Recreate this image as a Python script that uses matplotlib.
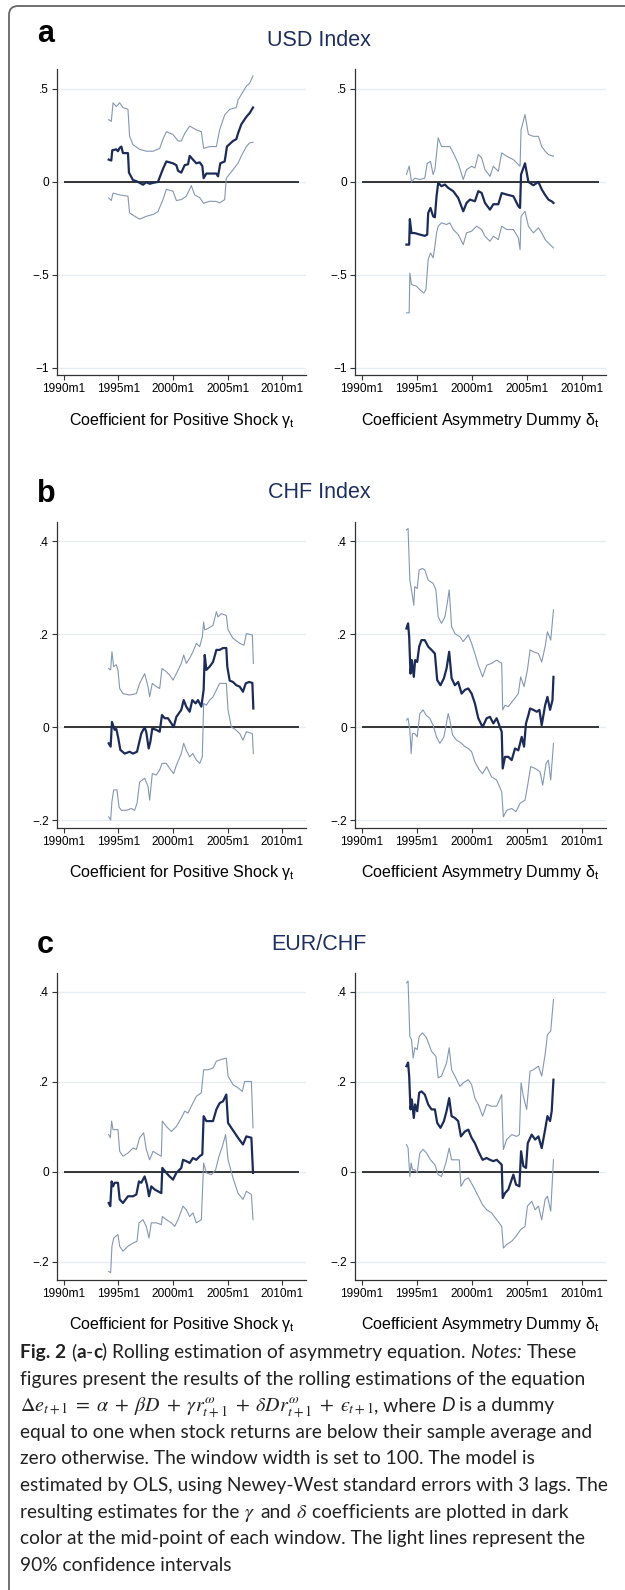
import matplotlib
matplotlib.use("Agg")
import matplotlib.pyplot as plt
from matplotlib.patches import FancyBboxPatch
from matplotlib.transforms import IdentityTransform

plt.rcParams['font.family'] = 'Liberation Sans'
plt.rcParams['mathtext.fontset'] = 'stix'

# ---- rolling estimates, window mid-points in decimal years ----
# USD index, gamma
usd_gam_t = [1994.10, 1994.34, 1994.43, 1994.80, 1994.95, 1995.11, 1995.26, 1995.41, 1995.87, 1995.96,
             1996.33, 1996.64, 1996.94, 1997.25, 1997.55, 1997.86, 1998.17, 1998.62, 1999.08, 1999.39,
             2000.00, 2000.31, 2000.46, 2000.76, 2001.07, 2001.38, 2001.53, 2001.83, 2002.14, 2002.45,
             2002.69, 2002.81, 2003.06, 2003.98, 2004.13, 2004.34, 2004.74, 2004.95, 2005.50, 2005.81,
             2005.96, 2006.27, 2006.73, 2007.03, 2007.34]
usd_gam = [0.12, 0.115, 0.17, 0.175, 0.165, 0.183, 0.19, 0.155, 0.155, 0.05,
           0.01, 0.004, -0.005, -0.015, -0.002, -0.01, -0.005, 0.0, 0.07, 0.11,
           0.10, 0.09, 0.06, 0.05, 0.09, 0.095, 0.14, 0.12, 0.10, 0.105,
           0.085, 0.02, 0.045, 0.045, 0.03, 0.10, 0.11, 0.19, 0.22, 0.23,
           0.26, 0.31, 0.35, 0.37, 0.40]
usd_gam_hi_t = [1994.10, 1994.34, 1994.50, 1994.80, 1995.11, 1995.41, 1995.87, 1996.02, 1996.33, 1996.94,
                1997.55, 1998.17, 1998.78, 1999.08, 1999.39, 2000.00, 2000.46, 2000.76, 2001.07, 2001.53,
                2002.14, 2002.60, 2002.81, 2003.36, 2003.98, 2004.28, 2004.74, 2005.20, 2005.81, 2005.96,
                2006.27, 2006.73, 2007.03, 2007.34]
usd_gam_hi = [0.335, 0.325, 0.425, 0.405, 0.425, 0.40, 0.39, 0.245, 0.20, 0.175,
              0.165, 0.165, 0.18, 0.23, 0.27, 0.255, 0.22, 0.22, 0.26, 0.30,
              0.28, 0.27, 0.18, 0.19, 0.19, 0.28, 0.36, 0.39, 0.40, 0.44,
              0.47, 0.515, 0.53, 0.57]
usd_gam_lo_t = [1994.10, 1994.34, 1994.50, 1995.11, 1995.87, 1996.02, 1996.64, 1996.94, 1997.55, 1998.17,
                1998.62, 1999.08, 1999.39, 2000.00, 2000.31, 2000.76, 2001.22, 2001.68, 2001.99, 2002.45,
                2002.81, 2003.36, 2003.98, 2004.28, 2004.74, 2004.89, 2005.50, 2005.96, 2006.27, 2006.73,
                2007.03, 2007.34]
usd_gam_lo = [-0.086, -0.10, -0.06, -0.07, -0.077, -0.167, -0.19, -0.20, -0.185, -0.175,
              -0.16, -0.095, -0.04, -0.05, -0.10, -0.095, -0.077, -0.02, -0.07, -0.085,
              -0.115, -0.104, -0.105, -0.113, -0.095, 0.02, 0.065, 0.10, 0.14, 0.19,
              0.21, 0.213]

# USD index, delta
usd_del_t = [1994.04, 1994.29, 1994.35, 1994.50, 1994.80, 1995.26, 1995.71, 1995.93, 1996.02, 1996.23,
             1996.47, 1996.63, 1996.78, 1996.93, 1997.23, 1997.54, 1997.84, 1998.30, 1998.75, 1999.21,
             1999.51, 1999.82, 2000.27, 2000.58, 2000.88, 2001.19, 2001.64, 2001.95, 2002.40, 2002.71,
             2003.16, 2003.77, 2004.22, 2004.38, 2004.47, 2004.83, 2005.14, 2005.59, 2006.05, 2006.35,
             2006.66, 2006.96, 2007.27, 2007.42]
usd_del = [-0.337, -0.337, -0.20, -0.275, -0.275, -0.283, -0.29, -0.283, -0.167, -0.14,
           -0.185, -0.19, -0.077, -0.005, -0.023, -0.014, -0.032, -0.05, -0.086, -0.158,
           -0.113, -0.095, -0.104, -0.05, -0.059, -0.113, -0.149, -0.12, -0.12, -0.06,
           -0.068, -0.077, -0.13, -0.14, 0.04, 0.10, 0.0, -0.018, 0.0, -0.04,
           -0.07, -0.095, -0.105, -0.113]
usd_del_hi_t = [1994.04, 1994.29, 1994.50, 1994.80, 1995.26, 1995.71, 1995.93, 1996.23, 1996.47, 1996.63,
                1996.93, 1997.23, 1997.54, 1997.99, 1998.30, 1998.75, 1999.21, 1999.51, 1999.97, 2000.27,
                2000.58, 2000.88, 2001.19, 2001.64, 2001.95, 2002.40, 2002.71, 2003.16, 2003.77, 2004.22,
                2004.38, 2004.47, 2004.83, 2005.14, 2005.59, 2006.05, 2006.35, 2006.66, 2006.96, 2007.42]
usd_del_hi = [0.04, 0.085, 0.0, 0.02, 0.013, 0.02, 0.10, 0.11, 0.04, 0.066,
              0.237, 0.19, 0.19, 0.19, 0.156, 0.10, 0.013, 0.066, 0.084, 0.075,
              0.147, 0.13, 0.066, 0.03, 0.084, 0.057, 0.156, 0.138, 0.12, 0.093,
              0.084, 0.28, 0.362, 0.255, 0.245, 0.245, 0.19, 0.165, 0.147, 0.138]
usd_del_lo_t = [1994.04, 1994.29, 1994.35, 1994.50, 1994.95, 1995.26, 1995.62, 1995.81, 1996.02, 1996.23,
                1996.47, 1996.63, 1996.78, 1996.93, 1997.23, 1997.69, 1997.99, 1998.30, 1998.75, 1999.21,
                1999.51, 1999.97, 2000.43, 2000.88, 2001.19, 2001.64, 2001.95, 2002.40, 2002.71, 2003.16,
                2003.77, 2004.22, 2004.38, 2004.47, 2004.83, 2005.14, 2005.59, 2006.05, 2006.35, 2006.66,
                2006.96, 2007.42]
usd_del_lo = [-0.704, -0.704, -0.49, -0.552, -0.56, -0.58, -0.597, -0.58, -0.417, -0.382,
              -0.408, -0.346, -0.274, -0.238, -0.22, -0.229, -0.22, -0.256, -0.283, -0.337,
              -0.274, -0.265, -0.238, -0.256, -0.292, -0.319, -0.292, -0.31, -0.238, -0.256,
              -0.256, -0.30, -0.364, -0.185, -0.158, -0.238, -0.274, -0.247, -0.274, -0.31,
              -0.328, -0.355]

# CHF index, gamma
chf_gam_t = [1994.10, 1994.28, 1994.40, 1994.56, 1994.65, 1994.80, 1994.95, 1995.17, 1995.57, 1996.02,
             1996.33, 1996.70, 1996.88, 1997.09, 1997.40, 1997.55, 1997.77, 1997.92, 1998.10, 1998.47,
             1998.78, 1998.99, 1999.24, 1999.54, 1999.85, 2000.06, 2000.31, 2000.76, 2000.98, 2001.22,
             2001.53, 2001.77, 2002.08, 2002.29, 2002.60, 2002.81, 2002.91, 2003.06, 2003.36, 2003.67,
             2003.98, 2004.28, 2004.59, 2004.89, 2004.98, 2005.20, 2005.50, 2005.81, 2006.12, 2006.42,
             2006.67, 2006.97, 2007.28, 2007.37]
chf_gam = [-0.035, -0.042, 0.011, 0.0, -0.006, -0.004, -0.02, -0.049, -0.057, -0.053,
           -0.057, -0.053, -0.035, -0.014, 0.0, -0.011, -0.046, -0.032, -0.003, -0.006,
           -0.01, 0.026, 0.019, 0.019, 0.008, 0.0, 0.022, 0.037, 0.058, 0.044,
           0.033, 0.058, 0.051, 0.058, 0.044, 0.08, 0.155, 0.123, 0.13, 0.14,
           0.166, 0.166, 0.17, 0.17, 0.13, 0.10, 0.097, 0.09, 0.087, 0.076,
           0.094, 0.097, 0.095, 0.04]
chf_gam_hi_t = [1994.10, 1994.28, 1994.40, 1994.56, 1994.80, 1994.95, 1995.11, 1995.41, 1996.02, 1996.64,
                1996.94, 1997.40, 1997.71, 1997.86, 1998.10, 1998.47, 1998.78, 1998.99, 1999.39, 1999.69,
                2000.00, 2000.31, 2000.76, 2000.98, 2001.22, 2001.53, 2001.83, 2002.14, 2002.45, 2002.69,
                2002.81, 2002.91, 2003.21, 2003.67, 2003.98, 2004.13, 2004.43, 2004.89, 2005.05, 2005.50,
                2006.12, 2006.51, 2006.73, 2007.28, 2007.37]
chf_gam_hi = [0.126, 0.123, 0.162, 0.13, 0.134, 0.123, 0.083, 0.072, 0.069, 0.072,
              0.094, 0.115, 0.087, 0.065, 0.094, 0.087, 0.083, 0.126, 0.119, 0.112,
              0.101, 0.115, 0.137, 0.155, 0.137, 0.148, 0.162, 0.18, 0.173, 0.194,
              0.226, 0.209, 0.212, 0.219, 0.248, 0.237, 0.244, 0.24, 0.209, 0.191,
              0.18, 0.176, 0.201, 0.198, 0.137]
chf_gam_lo_t = [1994.10, 1994.28, 1994.40, 1994.56, 1994.86, 1995.05, 1995.26, 1995.72, 1996.18, 1996.48,
                1996.70, 1996.94, 1997.40, 1997.71, 1997.86, 1998.10, 1998.47, 1998.78, 1998.99, 1999.39,
                1999.69, 2000.06, 2000.31, 2000.76, 2000.98, 2001.22, 2001.53, 2001.83, 2002.14, 2002.45,
                2002.69, 2002.81, 2003.06, 2003.36, 2003.67, 2003.98, 2004.28, 2004.89, 2005.05, 2005.35,
                2005.66, 2006.12, 2006.42, 2006.73, 2007.28, 2007.37]
chf_gam_lo = [-0.193, -0.20, -0.16, -0.135, -0.135, -0.172, -0.179, -0.179, -0.175, -0.179,
              -0.164, -0.118, -0.11, -0.128, -0.157, -0.10, -0.103, -0.092, -0.078, -0.078,
              -0.089, -0.10, -0.082, -0.057, -0.035, -0.05, -0.064, -0.057, -0.071, -0.078,
              -0.064, 0.051, 0.047, 0.058, 0.065, 0.08, 0.094, 0.094, 0.037, 0.0,
              -0.004, -0.014, -0.028, -0.01, -0.014, -0.057]

# CHF index, delta
chf_del_t = [1994.04, 1994.19, 1994.29, 1994.41, 1994.53, 1994.71, 1994.83, 1995.02, 1995.20, 1995.41,
             1995.71, 1996.02, 1996.32, 1996.63, 1996.84, 1997.14, 1997.45, 1997.69, 1997.93, 1998.15,
             1998.45, 1998.75, 1999.06, 1999.36, 1999.67, 1999.97, 2000.27, 2000.58, 2000.97, 2001.34,
             2001.64, 2001.95, 2002.25, 2002.55, 2002.71, 2002.80, 2003.01, 2003.31, 2003.62, 2003.92,
             2004.22, 2004.53, 2004.74, 2004.92, 2005.14, 2005.29, 2005.59, 2005.90, 2006.14, 2006.35,
             2006.66, 2006.87, 2007.11, 2007.33, 2007.42]
chf_del = [0.212, 0.223, 0.194, 0.115, 0.144, 0.108, 0.144, 0.14, 0.173, 0.187,
           0.187, 0.173, 0.166, 0.158, 0.101, 0.09, 0.105, 0.126, 0.162, 0.105,
           0.09, 0.097, 0.072, 0.08, 0.083, 0.072, 0.051, 0.019, 0.0, 0.019,
           0.022, 0.008, 0.019, 0.0, -0.01, -0.089, -0.064, -0.064, -0.071, -0.046,
           -0.05, -0.021, -0.042, 0.008, 0.026, 0.04, 0.037, 0.033, 0.037, 0.004,
           0.047, 0.065, 0.037, 0.058, 0.108]
chf_del_hi_t = [1994.04, 1994.19, 1994.35, 1994.50, 1994.71, 1994.80, 1995.02, 1995.20, 1995.50, 1995.71,
                1996.02, 1996.47, 1996.72, 1996.93, 1997.23, 1997.54, 1997.75, 1997.93, 1998.15, 1998.45,
                1998.91, 1999.21, 1999.67, 1999.97, 2000.27, 2000.58, 2000.97, 2001.34, 2001.79, 2002.25,
                2002.71, 2002.80, 2003.01, 2003.31, 2003.77, 2004.22, 2004.44, 2004.74, 2005.05, 2005.29,
                2005.59, 2006.05, 2006.35, 2006.66, 2006.87, 2007.17, 2007.42]
chf_del_hi = [0.424, 0.427, 0.316, 0.295, 0.262, 0.302, 0.298, 0.338, 0.341, 0.338,
              0.316, 0.309, 0.295, 0.237, 0.223, 0.237, 0.266, 0.295, 0.216, 0.201,
              0.194, 0.184, 0.198, 0.18, 0.158, 0.133, 0.108, 0.133, 0.137, 0.144,
              0.137, 0.037, 0.047, 0.044, 0.058, 0.072, 0.108, 0.087, 0.123, 0.166,
              0.162, 0.158, 0.14, 0.173, 0.205, 0.187, 0.252]
chf_del_lo_t = [1994.04, 1994.19, 1994.35, 1994.47, 1994.59, 1994.80, 1995.02, 1995.26, 1995.56, 1995.81,
                1996.17, 1996.47, 1996.78, 1997.08, 1997.45, 1997.84, 1997.99, 1998.24, 1998.60, 1999.06,
                1999.36, 1999.67, 1999.97, 2000.27, 2000.67, 2000.97, 2001.34, 2001.79, 2002.25, 2002.71,
                2002.86, 2003.16, 2003.62, 2004.01, 2004.38, 2004.83, 2005.05, 2005.35, 2005.75, 2006.20,
                2006.44, 2006.75, 2006.96, 2007.17, 2007.42]
chf_del_lo = [0.015, 0.019, -0.006, -0.057, -0.014, -0.014, -0.021, 0.029, 0.037, 0.026,
              0.019, 0.004, -0.021, -0.035, -0.021, 0.029, 0.015, -0.017, -0.028, -0.035,
              -0.042, -0.046, -0.053, -0.075, -0.092, -0.10, -0.085, -0.107, -0.114, -0.139,
              -0.193, -0.179, -0.175, -0.182, -0.164, -0.157, -0.128, -0.085, -0.089, -0.096,
              -0.125, -0.078, -0.071, -0.114, -0.035]

# EUR/CHF, gamma
eur_gam_t = [1994.10, 1994.25, 1994.37, 1994.50, 1994.65, 1994.95, 1995.11, 1995.41, 1995.87, 1996.33,
             1996.64, 1996.88, 1997.09, 1997.40, 1997.61, 1997.80, 1998.01, 1998.32, 1998.62, 1998.93,
             1999.02, 1999.39, 1999.69, 2000.00, 2000.31, 2000.76, 2000.92, 2001.22, 2001.53, 2001.83,
             2002.14, 2002.45, 2002.69, 2002.81, 2003.06, 2003.67, 2003.98, 2004.28, 2004.59, 2004.89,
             2005.05, 2005.35, 2005.66, 2005.96, 2006.42, 2006.73, 2007.19, 2007.34]
eur_gam = [-0.069, -0.076, -0.021, -0.032, -0.024, -0.024, -0.061, -0.069, -0.054, -0.054,
           -0.05, -0.021, -0.024, -0.01, -0.028, -0.054, -0.032, -0.039, -0.043, -0.047,
           0.009, -0.002, -0.01, -0.017, -0.002, 0.009, 0.027, 0.024, 0.02, 0.031,
           0.027, 0.035, 0.039, 0.124, 0.113, 0.113, 0.139, 0.153, 0.157, 0.172,
           0.109, 0.098, 0.087, 0.076, 0.061, 0.079, 0.076, -0.002]
eur_gam_hi_t = [1994.10, 1994.25, 1994.37, 1994.50, 1994.95, 1995.11, 1995.41, 1995.87, 1996.33, 1996.64,
                1996.94, 1997.31, 1997.55, 1997.86, 1998.17, 1998.62, 1998.93, 1999.02, 1999.39, 1999.85,
                2000.31, 2000.76, 2001.07, 2001.38, 2001.68, 2002.14, 2002.60, 2002.81, 2003.21, 2003.67,
                2003.98, 2004.43, 2004.89, 2005.05, 2005.50, 2005.96, 2006.36, 2006.57, 2007.19, 2007.34]
eur_gam_hi = [0.083, 0.076, 0.113, 0.094, 0.094, 0.046, 0.035, 0.042, 0.053, 0.05,
              0.076, 0.087, 0.05, 0.027, 0.046, 0.039, 0.035, 0.113, 0.101, 0.09,
              0.101, 0.12, 0.135, 0.131, 0.146, 0.168, 0.176, 0.227, 0.227, 0.231,
              0.246, 0.25, 0.253, 0.213, 0.194, 0.187, 0.179, 0.201, 0.201, 0.098]
eur_gam_lo_t = [1994.10, 1994.28, 1994.40, 1994.56, 1994.95, 1995.11, 1995.41, 1995.87, 1996.33, 1996.70,
                1996.88, 1997.25, 1997.55, 1997.80, 1998.01, 1998.47, 1998.93, 1999.02, 1999.39, 1999.85,
                2000.15, 2000.46, 2000.92, 2001.22, 2001.53, 2001.83, 2002.14, 2002.60, 2002.81, 2003.06,
                2003.52, 2003.91, 2004.22, 2004.53, 2004.83, 2005.05, 2005.50, 2005.96, 2006.42, 2006.73,
                2007.19, 2007.34]
eur_gam_lo = [-0.221, -0.224, -0.165, -0.147, -0.139, -0.165, -0.176, -0.165, -0.158, -0.154,
              -0.113, -0.106, -0.121, -0.147, -0.113, -0.113, -0.117, -0.099, -0.106, -0.113,
              -0.121, -0.106, -0.076, -0.084, -0.099, -0.091, -0.113, -0.106, 0.02, -0.002,
              -0.006, 0.005, 0.035, 0.057, 0.083, 0.027, -0.013, -0.047, -0.061, -0.043,
              -0.05, -0.106]

# EUR/CHF, delta
eur_del_t = [1994.04, 1994.19, 1994.29, 1994.41, 1994.53, 1994.71, 1994.83, 1995.02, 1995.20, 1995.41,
             1995.71, 1996.02, 1996.32, 1996.63, 1996.84, 1997.14, 1997.45, 1997.69, 1997.93, 1998.15,
             1998.45, 1998.75, 1999.00, 1999.36, 1999.67, 1999.97, 2000.27, 2000.58, 2000.97, 2001.34,
             2001.64, 2001.95, 2002.25, 2002.55, 2002.71, 2002.80, 2003.01, 2003.31, 2003.77, 2004.01,
             2004.32, 2004.47, 2004.68, 2004.92, 2005.08, 2005.44, 2005.75, 2006.05, 2006.35, 2006.66,
             2006.87, 2007.11, 2007.26, 2007.42]
eur_del = [0.235, 0.243, 0.213, 0.139, 0.161, 0.12, 0.15, 0.135, 0.176, 0.179,
           0.172, 0.15, 0.139, 0.139, 0.109, 0.098, 0.113, 0.135, 0.164, 0.124,
           0.12, 0.113, 0.079, 0.09, 0.094, 0.076, 0.064, 0.046, 0.027, 0.031,
           0.027, 0.024, 0.027, 0.02, 0.016, -0.058, -0.047, -0.039, -0.006, -0.028,
           -0.032, 0.046, 0.013, 0.009, 0.064, 0.083, 0.072, 0.079, 0.053, 0.094,
           0.124, 0.113, 0.135, 0.205]
eur_del_hi_t = [1994.04, 1994.19, 1994.35, 1994.50, 1994.65, 1994.80, 1995.02, 1995.20, 1995.50, 1995.87,
                1996.32, 1996.72, 1996.93, 1997.23, 1997.69, 1997.93, 1998.15, 1998.45, 1998.91, 1999.21,
                1999.67, 1999.97, 2000.27, 2000.58, 2000.97, 2001.34, 2001.79, 2002.25, 2002.71, 2002.86,
                2003.16, 2003.62, 2004.07, 2004.32, 2004.47, 2004.68, 2004.98, 2005.29, 2005.59, 2006.05,
                2006.35, 2006.66, 2006.87, 2007.17, 2007.42]
eur_del_hi = [0.42, 0.424, 0.301, 0.294, 0.253, 0.276, 0.272, 0.301, 0.309, 0.298,
              0.268, 0.257, 0.209, 0.213, 0.242, 0.276, 0.227, 0.213, 0.19, 0.198,
              0.205, 0.194, 0.164, 0.15, 0.124, 0.15, 0.146, 0.146, 0.172, 0.05,
              0.072, 0.083, 0.079, 0.083, 0.198, 0.168, 0.139, 0.224, 0.227, 0.235,
              0.213, 0.261, 0.305, 0.313, 0.383]
eur_del_lo_t = [1994.04, 1994.19, 1994.35, 1994.47, 1994.59, 1994.80, 1995.02, 1995.26, 1995.56, 1995.87,
                1996.23, 1996.63, 1996.93, 1997.23, 1997.63, 1997.93, 1998.15, 1998.45, 1998.85, 1999.00,
                1999.36, 1999.67, 2000.12, 2000.58, 2000.97, 2001.34, 2001.79, 2002.25, 2002.71, 2002.86,
                2003.16, 2003.62, 2004.01, 2004.44, 2004.83, 2005.05, 2005.44, 2005.75, 2006.05, 2006.35,
                2006.66, 2006.87, 2007.17, 2007.42]
eur_del_lo = [0.061, 0.053, -0.01, 0.02, 0.005, 0.005, -0.002, 0.042, 0.05, 0.042,
              0.027, 0.016, -0.006, -0.01, 0.02, 0.053, 0.027, 0.027, 0.027, -0.032,
              -0.017, -0.013, -0.032, -0.054, -0.073, -0.084, -0.091, -0.106, -0.121, -0.169,
              -0.161, -0.154, -0.143, -0.128, -0.121, -0.076, -0.065, -0.084, -0.076, -0.106,
              -0.061, -0.054, -0.087, 0.027]

# axis ticks
x_ticks = [1990, 1995, 2000, 2005, 2010]
x_tick_labels = ['1990m1', '1995m1', '2000m1', '2005m1', '2010m1']
usd_yticks = [-1, -0.5, 0, 0.5]
usd_ylabels = ['\u22121', '\u2212.5', '0', '.5']
chf_yticks = [-0.2, 0, 0.2, 0.4]
chf_ylabels = ['\u2212.2', '0', '.2', '.4']

panels = [
    ('a', 'USD Index', (-1.038, 0.607), usd_yticks, usd_ylabels,
     [(usd_gam_t, usd_gam, usd_gam_hi_t, usd_gam_hi, usd_gam_lo_t, usd_gam_lo),
      (usd_del_t, usd_del, usd_del_hi_t, usd_del_hi, usd_del_lo_t, usd_del_lo)]),
    ('b', 'CHF Index', (-0.217, 0.441), chf_yticks, chf_ylabels,
     [(chf_gam_t, chf_gam, chf_gam_hi_t, chf_gam_hi, chf_gam_lo_t, chf_gam_lo),
      (chf_del_t, chf_del, chf_del_hi_t, chf_del_hi, chf_del_lo_t, chf_del_lo)]),
    ('c', 'EUR/CHF', (-0.24, 0.442), chf_yticks, chf_ylabels,
     [(eur_gam_t, eur_gam, eur_gam_hi_t, eur_gam_hi, eur_gam_lo_t, eur_gam_lo),
      (eur_del_t, eur_del, eur_del_hi_t, eur_del_hi, eur_del_lo_t, eur_del_lo)]),
]
x_titles = ['Coefficient for Positive Shock $\\mathregular{\u03b3_t}$',
            'Coefficient Asymmetry Dummy $\\mathregular{\u03b4_t}$']

DARK = '#1c2c58'
LIGHT = '#8497b2'
NAVY = '#1d2f5e'
GRID = '#e6eef2'

W, H = 625, 1590
fig = plt.figure(figsize=(W / 100, H / 100), dpi=100)


def fx(x):
    return x / W


def fy(y):
    return 1 - y / H


# outer frame (rounded corner top-left, runs off the page right/bottom)
frame = FancyBboxPatch((9, -200), 900, H - 6 + 200, boxstyle='round,pad=0,rounding_size=9',
                       transform=IdentityTransform(), fill=False, edgecolor='#666666', lw=1.3)
fig.add_artist(frame)

row_px = [(69, 375), (522, 828), (973, 1280)]
col_px = [(57, 306), (355, 606)]
title_y = [40, 493, 945]
letter_y = [42, 502, 953]

for (letter, title, ylim, yt, ylab, series), (top, bot), ty, ly in zip(panels, row_px, title_y, letter_y):
    fig.text(fx(37), fy(ly), letter, fontsize=22, fontweight='bold', va='baseline', ha='left')
    fig.text(fx(319), fy(ty), title, fontsize=15.5, color=NAVY, ha='center', va='center')
    for (x0, x1), s, xt in zip(col_px, series, x_titles):
        ax = fig.add_axes([fx(x0), fy(bot), (x1 - x0) / W, (bot - top) / H])
        t, v, th, vh, tl, vl = s
        for g in yt:
            ax.axhline(g, color=GRID, lw=1.0, zorder=0)
        ax.hlines(0, 1990, 2011.55, color='black', lw=1.1, zorder=2)
        ax.plot(th, vh, color=LIGHT, lw=0.8, zorder=3)
        ax.plot(tl, vl, color=LIGHT, lw=0.8, zorder=3)
        ax.plot(t, v, color=DARK, lw=1.6, zorder=4)
        ax.set_xlim(1989.36, 2012.2)
        ax.set_ylim(*ylim)
        ax.set_xticks(x_ticks)
        ax.set_xticklabels(x_tick_labels)
        ax.set_yticks(yt)
        ax.set_yticklabels(ylab)
        ax.tick_params(labelsize=8.6, length=3.5, width=0.8, color='#333333', pad=2.5)
        for side in ['top', 'right']:
            ax.spines[side].set_visible(False)
        for side in ['left', 'bottom']:
            ax.spines[side].set_color('#333333')
            ax.spines[side].set_linewidth(0.9)
        ax.set_facecolor('none')
        fig.text(fx((x0 + x1) / 2), fy(bot + 45), xt, fontsize=11.5, ha='center', va='center')

# ---- caption ----
CAP_FONT = 'Lato'
CAP_SIZE = 13.8
r = fig.canvas.get_renderer()
styles = {
    'n': dict(family=CAP_FONT, fontsize=CAP_SIZE, color='#222222'),
    'b': dict(family=CAP_FONT, fontsize=CAP_SIZE, color='#222222', fontweight='bold'),
    'i': dict(family=CAP_FONT, fontsize=CAP_SIZE, color='#222222', fontstyle='italic'),
    'm': dict(fontsize=CAP_SIZE + 0.6, color='#222222'),
}


def text_w(s, kw):
    tx = fig.text(0, 0, s, **kw)
    w = tx.get_window_extent(r).width
    tx.remove()
    return w


def seg_w(s, kw):
    return text_w('|' + s + '|', kw) - text_w('||', kw)


equation = (r'$\Delta e_{t+1} \;=\; \alpha \;+\; \beta D \;+\; \gamma r^{\omega}_{t+1} \;+\; '
            r'\delta D r^{\omega}_{t+1} \;+\; ' + '\u03f5' + r'_{t+1}$')

caption = [
    [('Fig. 2', 'b'), (' (', 'n'), ('a', 'b'), ('-', 'n'), ('c', 'b'),
     (') Rolling estimation of asymmetry equation. ', 'n'), ('Notes:', 'i'), (' These', 'n')],
    [('figures present the results of the rolling estimations of the equation', 'n')],
    [(equation, 'm'), (', where ', 'n'), ('D', 'i'), (' is a dummy', 'n')],
    [('equal to one when stock returns are below their sample average and', 'n')],
    [('zero otherwise. The window width is set to 100. The model is', 'n')],
    [('estimated by OLS, using Newey-West standard errors with 3 lags. The', 'n')],
    [('resulting estimates for the ', 'n'), (r'$\gamma$', 'm'), (' and ', 'n'), (r'$\delta$', 'm'),
     (' coefficients are plotted in dark', 'n')],
    [('color at the mid-point of each window. The light lines represent the', 'n')],
    [('90% confidence intervals', 'n')],
]

base = 1358
for i, parts in enumerate(caption):
    y = base + i * 26.6
    x = 20.0
    for s, st in parts:
        kw = styles[st]
        if st == 'm':
            fig.text(fx(x), fy(y), s, va='baseline', ha='left', **kw)
            x += text_w(s, kw)
            continue
        lead = s[:len(s) - len(s.lstrip(' '))]
        xd = x + (seg_w(lead, kw) if lead else 0)
        fig.text(fx(xd), fy(y), s.strip(' '), va='baseline', ha='left', **kw)
        x += seg_w(s, kw)

fig.savefig('out.png', dpi=100)
